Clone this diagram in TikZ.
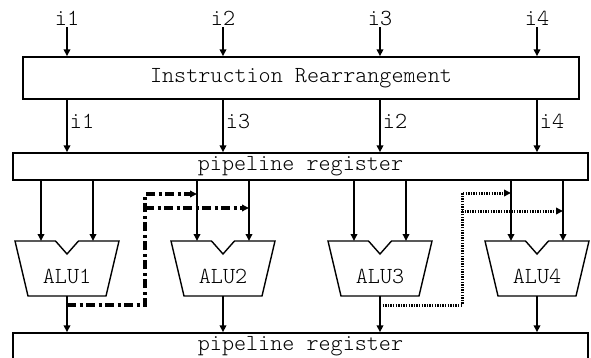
\documentclass[tikz,border=0pt]{standalone}
\usetikzlibrary{calc,arrows.meta,positioning}
\tikzset{
  regbox/.style={draw=black, line width=1.4pt, minimum width=575pt, minimum height=27pt,
    inner sep=0pt, font=\ttfamily\fontseries{l}\fontsize{23}{27}\selectfont},
  rearrbox/.style={regbox, minimum width=556pt, minimum height=42pt},
  lbl/.style={font=\ttfamily\fontseries{l}\fontsize{23}{27}\selectfont, inner sep=2pt},
  arr/.style={-{Triangle[length=7pt,width=6.5pt]}, line width=1.9pt},
  fwdash/.style={arr, line width=3.2pt, dash pattern=on 9pt off 3.5pt on 3pt off 3.5pt},
  fwdot/.style={arr, line width=3pt, dash pattern=on 1.4pt off 1.2pt},
  alushape/.style={draw=black, line width=1.4pt, line join=miter},
  % ALU outline: trapezium with a notch between the two operand inputs
  alu/.pic={
    \draw[alushape] (-52,0) -- (-11.5,0) -- (0,13) -- (11.5,0) -- (52,0)
      -- (39,55) -- (-39,55) -- cycle;
    \coordinate (-inl) at (-26,0);
    \coordinate (-inr) at (26,0);
    \coordinate (-out) at (0,55);
    \node[lbl] (-name) at (0,35) {#1};
  }
}

\begin{document}
\begin{tikzpicture}[x=1pt, y=-1pt]
  \useasboundingbox (0,0) rectangle (591,358);

  \node[rearrbox] (rearr) at (301,78) {Instruction Rearrangement};
  \node[regbox] (preg1) at (300.5,166.5) {pipeline register};
  \node[regbox] (preg2) at (300.5,346.5) {pipeline register};

  % incoming instructions and their new order
  \foreach \x/\a/\b [count=\i] in {67/i1/i1, 223/i2/i3, 380/i3/i2, 537/i4/i4} {
    \node[lbl] (in\i) at (\x,18) {\a};
    \draw[arr] (in\i) -- (in\i |- rearr.north);
    \draw[arr] (rearr.south -| in\i) -- (preg1.north -| in\i)
      node[lbl, pos=0.42, right] {\b};
  }

  % the four ALUs
  \foreach \x [count=\i] in {67,223,380,537} {
    \pic (alu\i) at (\x,241) {alu=ALU\i};
    \draw[arr] (preg1.south -| alu\i-inl) -- (alu\i-inl);
    \draw[arr] (preg1.south -| alu\i-inr) -- (alu\i-inr);
    \draw[arr] (alu\i-out) -- (alu\i-out |- preg2.north);
  }

  % forwarding ALU1 -> ALU2
  \coordinate (fwa) at ($(alu1-out)+(0,9)$);
  \coordinate (fwa-hi) at (145,194);
  \coordinate (fwa-lo) at (145,208);
  \draw[fwdash] (fwa) -| (fwa-hi) -- (fwa-hi -| alu2-inl);
  \draw[fwdash] (fwa-lo) -- (fwa-lo -| alu2-inr);

  % forwarding ALU3 -> ALU4
  \coordinate (fwb) at ($(alu3-out)+(0,9)$);
  \coordinate (fwb-hi) at (462,193);
  \coordinate (fwb-lo) at (462,211);
  \draw[fwdot] (fwb) -| (fwb-hi) -- (fwb-hi -| alu4-inl);
  \draw[fwdot] (fwb-lo) -- (fwb-lo -| alu4-inr);
\end{tikzpicture}
\end{document}
